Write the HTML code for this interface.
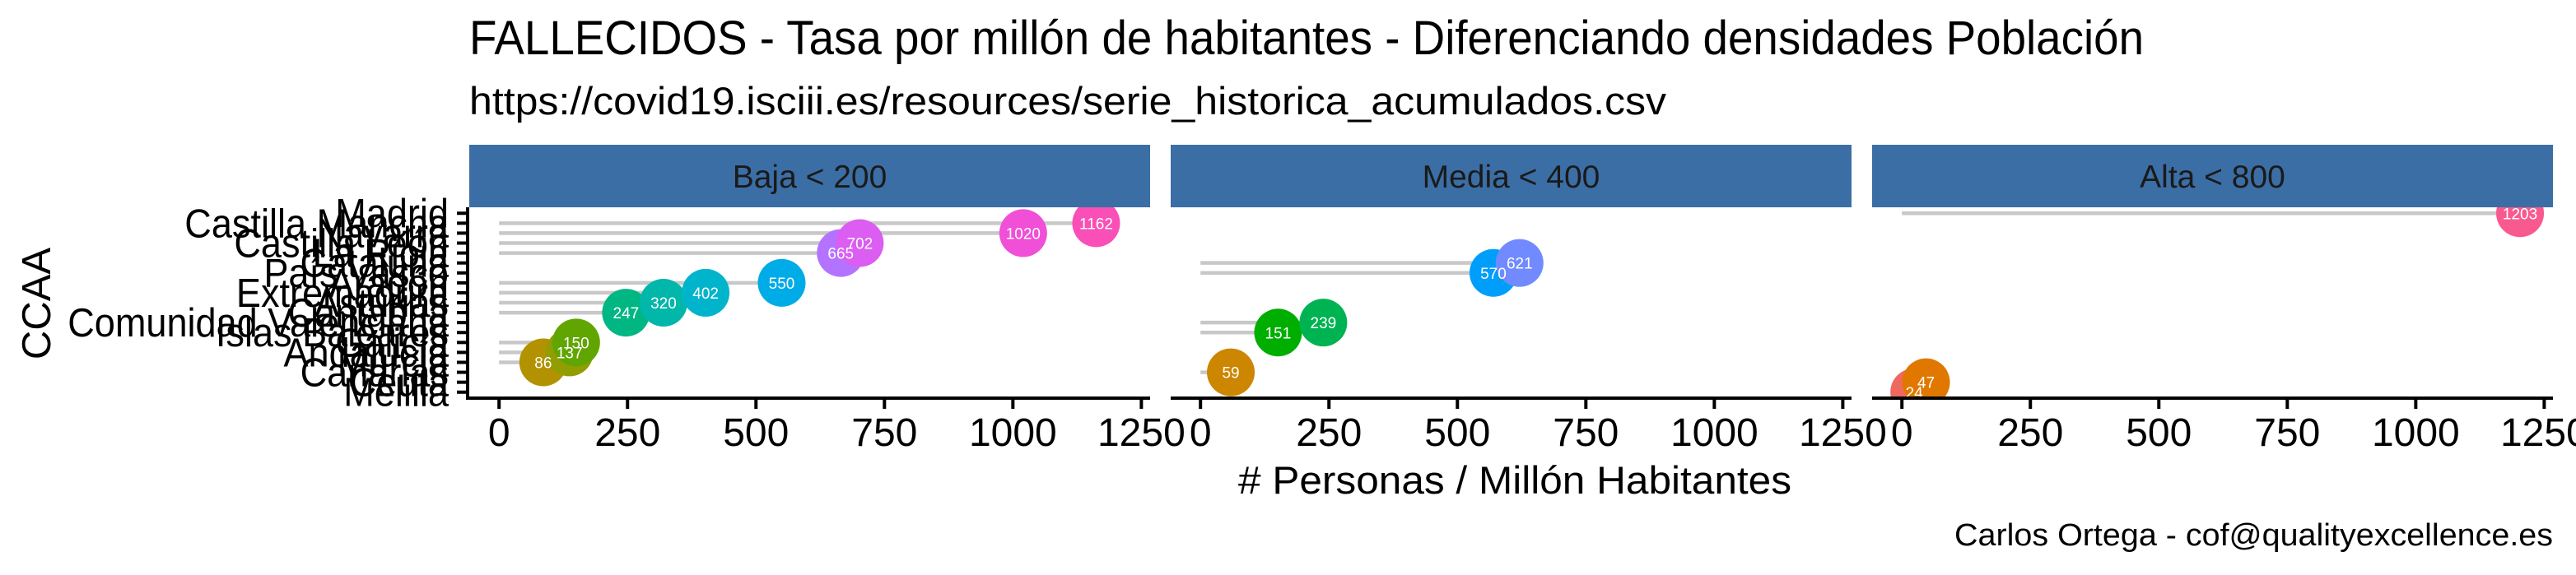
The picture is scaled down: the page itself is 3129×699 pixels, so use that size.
<!DOCTYPE html>
<html><head><meta charset="utf-8">
<style>
html,body{margin:0;padding:0;background:#fff;}
svg{display:block;font-family:"Liberation Sans",Arial,sans-serif;}
</style></head>
<body>
<svg id="chart" width="3129" height="699" viewBox="0 0 3129 699" xmlns="http://www.w3.org/2000/svg">
  <rect x="0" y="0" width="3129" height="699" fill="#ffffff"/>
  <text x="570" y="66" font-size="58" textLength="2034" lengthAdjust="spacingAndGlyphs" fill="#000">FALLECIDOS - Tasa por millón de habitantes - Diferenciando densidades Población</text>
  <text x="570" y="139" font-size="47" textLength="1454" lengthAdjust="spacingAndGlyphs" fill="#000">https://covid19.isciii.es/resources/serie_historica_acumulados.csv</text>
  <text x="1504" y="600" font-size="47" textLength="672" lengthAdjust="spacingAndGlyphs" fill="#000"># Personas / Millón Habitantes</text>
  <text transform="translate(61,369) rotate(-90)" font-size="49" text-anchor="middle" fill="#000">CCAA</text>
  <text x="2374" y="663" font-size="38" textLength="727" lengthAdjust="spacingAndGlyphs" fill="#000">Carlos Ortega - cof@qualityexcellence.es</text>
  <g id="plot"></g>
</svg>
<script>
// ---- data ----
const regions = ["Madrid","Castilla Mancha","Navarra","Castilla León","La Rioja","Cataluña","País Vasco","Aragón","Extremadura","Asturias","Cantabria","Comunidad Valenciana","Islas Baleares","Galicia","Andalucía","Murcia","Canarias","Ceuta","Melilla"];
const values = [1203,1162,1020,702,665,621,570,550,402,320,247,239,151,150,137,86,59,47,24];
const densityGroup = [2,0,0,0,0,1,1,0,0,0,0,1,1,0,0,0,1,2,2];
const facetLabels = ["Baja < 200","Media < 400","Alta < 800"];
const xTicks = [0,250,500,750,1000,1250];
const xTickLabels = ["0","250","500","750","1000","1250"];

// ---- layout ----
const NS = "http://www.w3.org/2000/svg";
const plot = document.getElementById('plot');
const panelX = [570,1422,2274];
const panelW = 827;
const stripTop = 176, panelTop = 252, panelBottom = 484;
const xMin = -58, xMax = 1267;
function xScale(v, p){ return panelX[p] + (v - xMin) / (xMax - xMin) * panelW; }
const rowStep = (panelBottom - panelTop) / (regions.length - 1 + 1.2);
function yScale(i){ return panelTop + (0.6 + i) * rowStep; }

function hcl(h){
  const L=61, C=105, Xn=95.047, Yn=100, Zn=108.883;
  const hr=h*Math.PI/180, u=C*Math.cos(hr), v=C*Math.sin(hr);
  const Y=Yn*Math.pow((L+16)/116,3);
  const un=4*Xn/(Xn+15*Yn+3*Zn), vn=9*Yn/(Xn+15*Yn+3*Zn);
  const up=u/(13*L)+un, vp=v/(13*L)+vn;
  const X=Y*9*up/(4*vp), Z=Y*(12-3*up-20*vp)/(4*vp);
  const x=X/100,y=Y/100,z=Z/100;
  let r=3.2404542*x-1.5371385*y-0.4985314*z;
  let g=-0.9692660*x+1.8760108*y+0.0415560*z;
  let b=0.0556434*x-0.2040259*y+1.0572252*z;
  const gm=c=>{c=c<=0.0031308?12.92*c:1.055*Math.pow(c,1/2.4)-0.055;return Math.round(Math.max(0,Math.min(1,c))*255);};
  return "rgb("+gm(r)+","+gm(g)+","+gm(b)+")";
}
function mk(tag, attrs, parent){
  const e=document.createElementNS(NS,tag);
  for(const k in attrs) e.setAttribute(k,attrs[k]);
  (parent||plot).appendChild(e); return e;
}

const defs = mk('defs',{});
for(let p=0;p<3;p++){
  const cp=mk('clipPath',{id:'clip'+p},defs);
  mk('rect',{x:panelX[p],y:panelTop,width:panelW,height:panelBottom-panelTop},cp);
}

// strips
for(let p=0;p<3;p++){
  const s=mk('rect',{x:panelX[p],y:stripTop,width:panelW,height:panelTop-stripTop,fill:'#3b6ea5'});
  
  
  const t=mk('text',{x:panelX[p]+panelW/2,y:(stripTop+panelTop)/2+14,'font-size':39,'text-anchor':'middle',fill:'#1a1a1a'});
  t.textContent=facetLabels[p];
  
  
}

// y axis labels and ticks (first panel)
regions.forEach((r,i)=>{
  const t=mk('text',{x:545,y:yScale(i)+17,'font-size':49,'text-anchor':'end',fill:'#000',transform:'translate(545,0) scale(0.92,1) translate(-545,0)'});
  t.textContent=r;
  
  
  const tk=mk('line',{x1:555,x2:568,y1:yScale(i),y2:yScale(i),stroke:'#000','stroke-width':4});
  
  
});
const ya=mk('line',{x1:568,x2:568,y1:panelTop,y2:panelBottom+2,stroke:'#000','stroke-width':4});



// panel marks
const groups=[];
for(let p=0;p<3;p++){
  const g=mk('g',{'clip-path':'url(#clip'+p+')'});
  
  
  groups.push(g);
}
values.forEach((v,i)=>{
  const p=densityGroup[i];
  const l=mk('line',{x1:xScale(0,p),x2:xScale(v,p),y1:yScale(i),y2:yScale(i),stroke:'#c8c8c8','stroke-width':4.5},groups[p]);
  
  
});
const order = values.map((v,i)=>i).sort((a,b)=>values[a]-values[b]);
const n=values.length;
order.forEach((i,rank)=>{
  const p=densityGroup[i];
  const c=mk('circle',{cx:xScale(values[i],p),cy:yScale(i),r:29,fill:hcl(15+rank*360/n)},groups[p]);
  
  
});
order.forEach(i=>{
  const p=densityGroup[i];
  const t=mk('text',{x:xScale(values[i],p),y:yScale(i)+7,'font-size':19,'text-anchor':'middle',fill:'#fff'},groups[p]);
  t.textContent=String(values[i]);
  
  
});

// x axes
for(let p=0;p<3;p++){
  const a=mk('line',{x1:panelX[p],x2:panelX[p]+panelW,y1:panelBottom,y2:panelBottom,stroke:'#000','stroke-width':4});
  
  
  xTicks.forEach((v,k)=>{
    const x=xScale(v,p);
    const tk=mk('line',{x1:x,x2:x,y1:panelBottom,y2:panelBottom+13,stroke:'#000','stroke-width':4});
    
    
    const t=mk('text',{x:x,y:542,'font-size':48,'text-anchor':'middle',fill:'#000'});
    t.textContent=xTickLabels[k];
    
    
  });
}
</script>
</body></html>
